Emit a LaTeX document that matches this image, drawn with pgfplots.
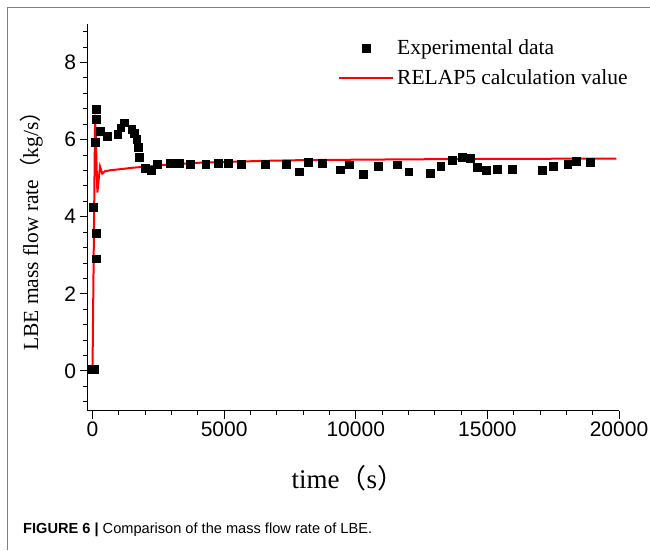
\documentclass[border=0pt]{standalone}
\usepackage{pgfplots}
\pgfplotsset{compat=1.18}
\usepackage{fontspec}
\setmainfont{Liberation Serif}
\newfontfamily\arial{Liberation Sans}
\newfontfamily\cjk{Noto Sans CJK SC}
\definecolor{relred}{RGB}{255,0,0}
\pgfplotsset{
  markleg/.style={legend image code/.code={\draw[mark repeat=2,mark phase=2,##1] plot coordinates {(0pt,0pt)(27pt,0pt)(54pt,0pt)};}},
  lineleg/.style={legend image code/.code={\draw[relred, line width=2pt] (0pt,0pt) -- (54pt,0pt);}},
}

\begin{document}
\begin{tikzpicture}
\useasboundingbox (0,0) rectangle (650pt,550pt);
\fill[white] (0,0) rectangle (650pt,550pt);
\draw[black!50, line width=1.2pt] (7.5pt,0) -- (7.5pt,542.5pt) -- (650pt,542.5pt);
\begin{axis}[
  at={(87.5pt,139.3pt)}, anchor=south west,
  scale only axis, width=531.5pt, height=386.7pt,
  xmin=-190, xmax=20000, ymin=-1.03, ymax=9,
  axis x line*=bottom, axis y line*=left,
  axis line style={line width=1.2pt, black},
  tick align=outside,
  xtick={-5000,0,5000,10000,15000,20000,25000},
  ytick={-2,0,2,4,6,8,10},
  minor x tick num=4, minor y tick num=4,
  major tick length=8pt, minor tick length=4.5pt,
  every tick/.append style={black, line width=1pt},
  scaled x ticks=false,
  tick label style={font=\arial\fontsize{21}{25}\selectfont},
  /pgf/number format/assume math mode=true,
  /pgf/number format/1000 sep={},
  xlabel={time{\cjk （}s{\cjk ）}},
  ylabel={LBE mass flow rate{\cjk （}kg/s{\cjk ）}},
  ylabel style={font=\fontsize{21.5}{25}\selectfont, at={(axis description cs:-0.106,0.478)}, anchor=center},
  xlabel style={font=\fontsize{27}{30}\selectfont, at={(axis description cs:0.49,-0.174)}, anchor=center},
  legend style={draw=none, fill=none, at={(axis description cs:0.4713,0.962)}, anchor=north west,
    font=\fontsize{21.5}{25}\selectfont, inner sep=0pt, row sep=11pt,
    nodes={inner sep=1pt},
    /tikz/every odd column/.append style={column sep=2pt}},
  legend cell align=left,
]
\addplot[only marks, mark=square*, mark size=3.9pt, black, markleg]
coordinates {
(-40,0.05) (60,0.05) (30,4.25) (130,3.58) (130,2.91) (100,5.93) (150,6.79) (140,6.53)
(290,6.21) (550,6.10) (960,6.15) (1070,6.31) (1200,6.44) (1490,6.28) (1580,6.17)
(1680,6.02) (1730,5.80) (1770,5.54) (2000,5.27) (2220,5.20) (2450,5.37) (2950,5.38)
(3100,5.38) (3290,5.38) (3700,5.37) (4300,5.37) (4770,5.38) (5150,5.38) (5640,5.37)
(6550,5.37) (7350,5.37) (7860,5.17) (8180,5.41) (8730,5.39) (9400,5.22) (9760,5.35)
(10270,5.10) (10860,5.31) (11580,5.35) (12010,5.17) (12820,5.13) (13230,5.31)
(13670,5.47) (14030,5.54) (14350,5.52) (14600,5.28) (14950,5.21) (15360,5.24)
(15950,5.24) (17090,5.21) (17490,5.32) (18050,5.37) (18370,5.45) (18900,5.41)
};
\addlegendentry{Experimental data}
\addplot[color=relred, line width=2pt, no marks, lineleg]
coordinates {
(0,0) (100,6.65) (185,4.63) (285,5.30) (370,5.12) (470,5.18) (700,5.21) (1000,5.23)
(1500,5.27) (2200,5.31) (3000,5.36) (4000,5.40) (5000,5.42) (6500,5.45) (8000,5.47)
(10000,5.48) (12000,5.49) (15000,5.50) (19900,5.51)
};
\addlegendentry{RELAP5 calculation value}
\end{axis}
\node[anchor=base west, inner sep=0pt, font=\arial\fontsize{14.6}{17}\selectfont] at (23pt,17pt)
  {\textbf{FIGURE 6 |} Comparison of the mass flow rate of LBE.};
\end{tikzpicture}
\end{document}
